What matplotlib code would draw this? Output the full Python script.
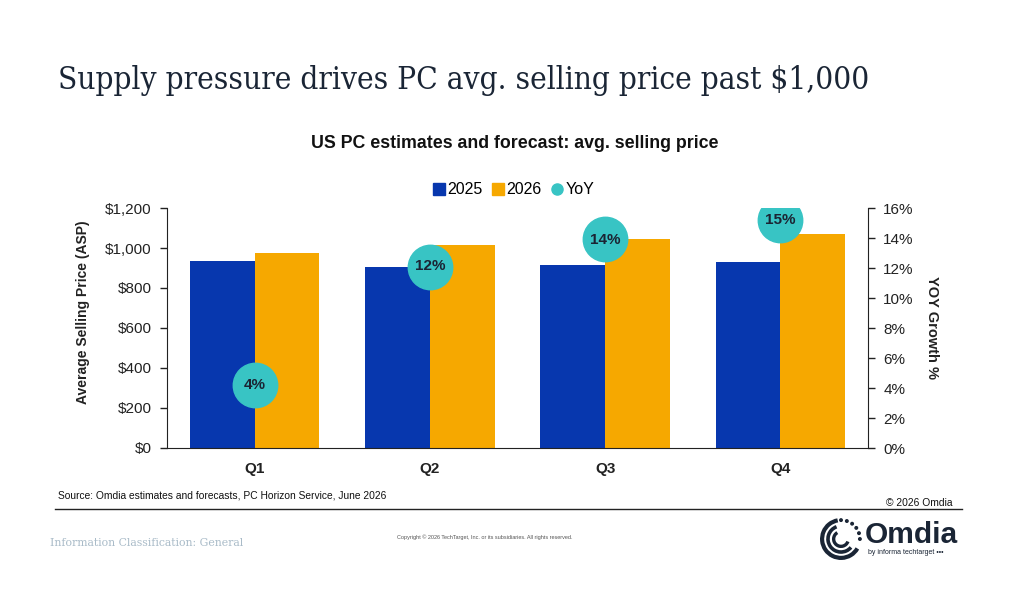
import matplotlib
matplotlib.use("Agg")
import matplotlib.pyplot as plt
from matplotlib.patches import Arc, Circle
from matplotlib.lines import Line2D
import numpy as np

# ---- data ----
quarters = ["Q1", "Q2", "Q3", "Q4"]
asp_2025 = [935, 905, 915, 930]
asp_2026 = [975, 1015, 1045, 1070]
yoy_pct = [4.2, 12.1, 13.9, 15.2]
yoy_labels = ["4%", "12%", "14%", "15%"]
left_ticks = [0, 200, 400, 600, 800, 1000, 1200]
right_ticks = [0, 2, 4, 6, 8, 10, 12, 14, 16]

C_2025 = "#0737AE"
C_2026 = "#F6A800"
C_YOY = "#38C4C4"
TXT = "#222222"

plt.rcParams['font.family'] = ['Arial', 'Liberation Sans', 'DejaVu Sans']

fig = plt.figure(figsize=(10.2, 6.0), dpi=100)
fig.patch.set_facecolor("white")

W, H = 1020, 600
def fx(px): return px / W
def fy(py): return 1 - py / H

ax = fig.add_axes([fx(167), fy(448), fx(868) - fx(167), fy(208) - fy(448)])
x = np.arange(len(quarters))
w = 0.37
ax.bar(x - w / 2, asp_2025, width=w, color=C_2025, zorder=2)
ax.bar(x + w / 2, asp_2026, width=w, color=C_2026, zorder=2)
ax.set_xlim(-0.5, 3.5)
ax.set_ylim(0, 1200)
ax.set_yticks(left_ticks)
ax.set_yticklabels([f"${v:,}" for v in left_ticks], fontsize=11, color=TXT)
ax.set_xticks(x)
ax.set_xticklabels(quarters, fontsize=11, fontweight="bold", color=TXT)
ax.tick_params(axis="x", length=0, pad=10)
ax.tick_params(axis="y", length=5, width=1, color="#222222", pad=6)
for s in ["top", "right"]:
    ax.spines[s].set_visible(False)
ax.spines["left"].set_color("#222222")
ax.spines["bottom"].set_color("#222222")
ax.set_ylabel("Average Selling Price (ASP)", fontsize=10, fontweight="bold", color=TXT, labelpad=8)
ax.yaxis.set_label_coords(-0.11, 0.565)

ax2 = ax.twinx()
ax2.set_ylim(0, 16)
ax2.set_yticks(right_ticks)
ax2.set_yticklabels([f"{v}%" for v in right_ticks], fontsize=11, color=TXT)
ax2.tick_params(axis="y", length=5, width=1, color="#222222", pad=6)
for s in ["top", "left", "bottom"]:
    ax2.spines[s].set_visible(False)
ax2.spines["right"].set_color("#222222")
ax2.plot(x, yoy_pct, linestyle="none", marker="o", markersize=32,
         markerfacecolor=C_YOY, markeredgecolor=C_YOY, zorder=3)
for xi, yi, lab in zip(x, yoy_pct, yoy_labels):
    ax2.text(xi, yi, lab, ha="center", va="center", fontsize=11,
             fontweight="bold", color="#1B2433", zorder=4)
ax2.set_ylabel("YOY Growth %", fontsize=10.5, fontweight="bold", color=TXT,
               rotation=-90, labelpad=18)

# legend
handles = [Line2D([], [], linestyle="none", marker="s", markersize=8, color=C_2025),
           Line2D([], [], linestyle="none", marker="s", markersize=8, color=C_2026),
           Line2D([], [], linestyle="none", marker="o", markersize=8, color=C_YOY)]
fig.legend(handles, ["2025", "2026", "YoY"], loc="center", bbox_to_anchor=(fx(514), fy(190)),
           ncol=3, frameon=False, fontsize=11.5, handlelength=0.7, handletextpad=0.2,
           columnspacing=0.6)

# titles
fig.text(fx(58), fy(80), "Supply pressure drives PC avg. selling price past $1,000",
         fontsize=22.6, family="DejaVu Serif", fontstretch="condensed", fontweight="medium",
         color="#1A2535", ha="left", va="center")
fig.text(fx(515), fy(144), "US PC estimates and forecast: avg. selling price",
         fontsize=12.8, fontweight="bold", color="#111111", ha="center", va="center")

# footer
fig.text(fx(58), fy(496), "Source: Omdia estimates and forecasts, PC Horizon Service, June 2026",
         fontsize=7.4, color="#111111", ha="left", va="center")
fig.text(fx(953), fy(503), "\u00a9 2026 Omdia", fontsize=7.4, color="#111111",
         ha="right", va="center")
fig.add_artist(Line2D([fx(55), fx(962)], [fy(509), fy(509)], color="#222222", lw=1.0))
fig.text(fx(50), fy(543), "Information Classification: General", fontsize=7.8,
         family="DejaVu Serif", color="#A9BBC8", ha="left", va="center")
fig.text(fx(485), fy(537), "Copyright \u00a9 2026 TechTarget, Inc. or its subsidiaries. All rights reserved.",
         fontsize=4, color="#555555", ha="center", va="center")

# logo
fig.text(fx(865), fy(535), "Omdia", fontsize=21.5, fontweight="bold", color="#1A2535",
         ha="left", va="center")
fig.text(fx(868), fy(553), "by informa techtarget \u2022\u2022\u2022", fontsize=5,
         color="#1A2535", ha="left", va="center")
lax = fig.add_axes([fx(820), fy(560), fx(862) - fx(820), fy(518) - fy(560)])
lax.set_xlim(-1, 1); lax.set_ylim(-1, 1); lax.set_aspect("equal"); lax.axis("off")
for r, lw, t1, t2 in [(0.9, 3.0, 100, 330), (0.62, 2.6, 110, 320), (0.35, 2.4, 120, 340)]:
    lax.add_patch(Arc((0, 0), 2 * r, 2 * r, theta1=t1, theta2=t2, lw=lw, color="#1A2535"))
for ang in np.linspace(0, 90, 6):
    a = np.deg2rad(ang)
    lax.add_patch(Circle((0.9 * np.cos(a), 0.9 * np.sin(a)), 0.06, color="#1A2535"))

fig.savefig("out.png", dpi=100)
